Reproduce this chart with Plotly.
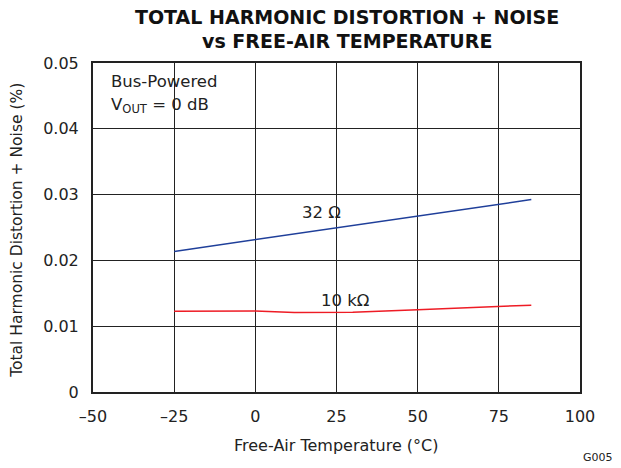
import plotly.graph_objects as go

temp_32 = [-25, 0, 12, 25, 50, 75, 85]
thd_32 = [0.02137, 0.02315, 0.02395, 0.02498, 0.02674, 0.02852, 0.02924]

temp_10k = [-25, 0, 12, 25, 30, 50, 75, 85]
thd_10k = [0.01228, 0.01230, 0.01209, 0.01204, 0.01212, 0.01250, 0.01305, 0.01320]

x_ticks = [-50, -25, 0, 25, 50, 75, 100]
x_tick_labels = ["–50", "–25", "0", "25", "50", "75", "100"]
y_ticks = [0, 0.01, 0.02, 0.03, 0.04, 0.05]
y_tick_labels = ["0", "0.01", "0.02", "0.03", "0.04", "0.05"]

FONT = "DejaVu Sans, Liberation Sans, sans-serif"
TXT = "#222"

fig = go.Figure()
fig.add_trace(go.Scatter(x=temp_32, y=thd_32, mode="lines",
                         line=dict(color="#1f3f9a", width=1.5), showlegend=False))
fig.add_trace(go.Scatter(x=temp_10k, y=thd_10k, mode="lines",
                         line=dict(color="#ee1c25", width=1.5), showlegend=False))

def ann(x, y, text, size, xanchor="center", yanchor="middle", ref="paper", bold=False, angle=0):
    fig.add_annotation(xref=ref, yref=ref if ref == "paper" else "y", x=x, y=y, text=text,
                       showarrow=False, xanchor=xanchor, yanchor=yanchor, textangle=angle,
                       font=dict(family=FONT, size=size, color="#111" if bold else TXT))

ann(20.3, 0.02735, "32 Ω", 16.5, ref="x")
ann(27.7, 0.0139, "10 kΩ", 16.5, ref="x")

ann(0.033, 0.943, "Bus-Powered", 16.5, xanchor="left")
ann(0.033, 0.872, "V<sub>OUT</sub> = 0 dB", 16.5, xanchor="left")

title_x = (347 - 93) / 487
ann(title_x, 1.1398, "<b>TOTAL HARMONIC DISTORTION + NOISE</b>", 19, bold=True)
ann(title_x, 1.0669, "<b>vs FREE-AIR TEMPERATURE</b>", 19, bold=True)

ann(-0.156, 0.49, "Total Harmonic Distortion + Noise (%)", 15.5, angle=-90)
ann(0.5, -0.162, "Free-Air Temperature (°C)", 16)
ann(1.037, -0.2006, "G005", 11)

fig.update_layout(
    width=621, height=468,
    margin=dict(l=93, r=41, t=63, b=76, autoexpand=False),
    paper_bgcolor="white", plot_bgcolor="white",
    font=dict(family=FONT, size=16, color=TXT),
    xaxis=dict(range=[-50, 100], tickvals=x_ticks, ticktext=x_tick_labels,
               showgrid=True, gridcolor="#222", gridwidth=1, zeroline=False,
               showline=True, linecolor="#222", linewidth=2, mirror=True,
               ticks="", ticklabelstandoff=9, automargin=False,
               tickfont=dict(family=FONT, size=16)),
    yaxis=dict(range=[0, 0.05], tickvals=y_ticks, ticktext=y_tick_labels,
               showgrid=True, gridcolor="#222", gridwidth=1, zeroline=False,
               showline=True, linecolor="#222", linewidth=2, mirror=True,
               ticks="", ticklabelstandoff=9, automargin=False,
               tickfont=dict(family=FONT, size=16)),
)

fig.write_html("out.html", config={"displayModeBar": False},
               post_script="document.body.style.margin='0';")
